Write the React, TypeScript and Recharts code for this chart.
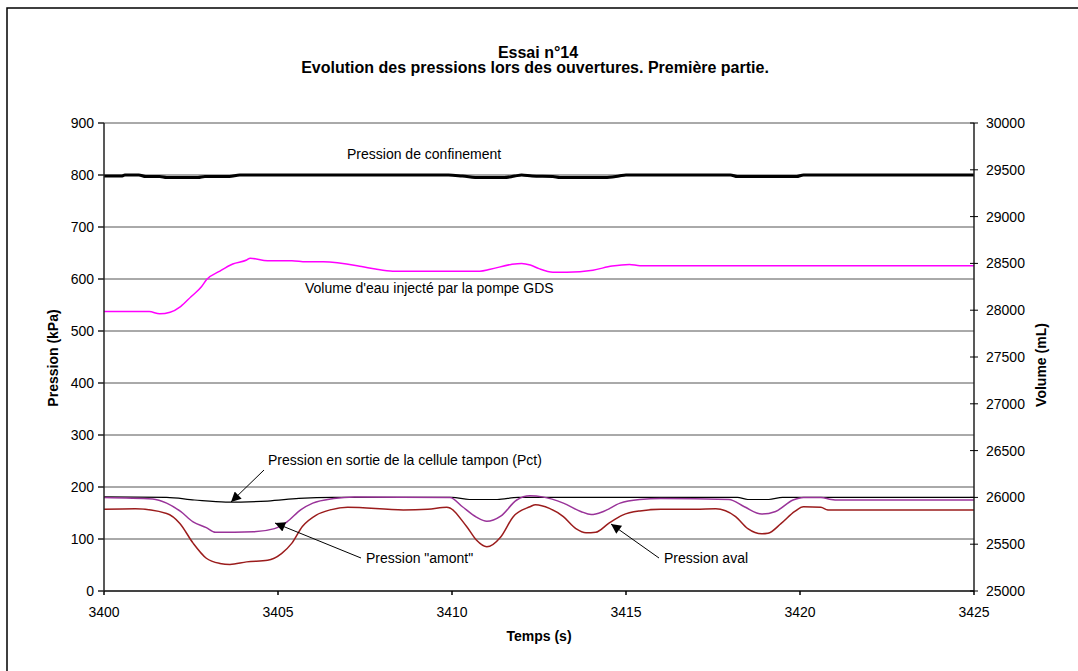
import React from 'react';
import { LineChart, Line, XAxis, YAxis, CartesianGrid } from 'recharts';

const FONT = '"Liberation Sans", Arial, sans-serif';

const X_TICKS = [3400, 3405, 3410, 3415, 3420, 3425];
const P_TICKS = [0, 100, 200, 300, 400, 500, 600, 700, 800, 900];
const V_TICKS = [25000, 25500, 26000, 26500, 27000, 27500, 28000, 28500, 29000, 29500, 30000];

// Pression de confinement (kPa)
const confT = [3400, 3400.5, 3400.6, 3401.0, 3401.2, 3401.6, 3401.8, 3402.7, 3402.9, 3403.6, 3403.9, 3409.9, 3410.3, 3410.8, 3411.5, 3411.8, 3412.0, 3412.3, 3412.9, 3413.1, 3414.4, 3414.8, 3415.0, 3418.0, 3418.2, 3419.9, 3420.1, 3425];
const confP = [798, 798, 800, 800, 797, 797, 795, 795, 797, 797, 800, 800, 798, 795, 795, 798, 800, 798, 797, 795, 795, 798, 800, 800, 797, 797, 800, 800];

// Volume d'eau injecté (mL)
const volT = [3400, 3401.3, 3401.6, 3401.9, 3402.2, 3402.5, 3402.8, 3402.95, 3403.3, 3403.7, 3404.1, 3404.2, 3404.7, 3405.4, 3405.8, 3406.3, 3407.4, 3407.8, 3408.3, 3410.8, 3411.1, 3411.7, 3412.0, 3412.25, 3412.5, 3412.9, 3413.3, 3414.05, 3414.6, 3415.1, 3415.4, 3425];
const volV = [27985, 27985, 27961, 27978, 28039, 28144, 28250, 28328, 28411, 28494, 28536, 28556, 28528, 28528, 28517, 28517, 28467, 28439, 28417, 28417, 28437, 28489, 28500, 28483, 28444, 28406, 28406, 28428, 28472, 28489, 28475, 28475];

// Pression en sortie de la cellule tampon (kPa)
const pctT = [3400, 3401.8, 3402.6, 3403.5, 3404.7, 3405.6, 3406.6, 3410.0, 3410.5, 3411.3, 3411.9, 3418.2, 3418.5, 3419.1, 3419.5, 3425];
const pctP = [181, 180, 175, 171, 173, 178, 180, 180, 176, 176, 180, 180, 176, 176, 180, 180];

// Pression "amont" (kPa)
const amT = [3400, 3401.4, 3401.8, 3402.2, 3402.56, 3402.94, 3403.2, 3404.3, 3404.9, 3405.26, 3405.65, 3406.0, 3406.6, 3407.2, 3409.94, 3410.3, 3410.7, 3411.0, 3411.4, 3411.86, 3412.24, 3412.6, 3413.2, 3413.7, 3414.0, 3414.35, 3414.83, 3415.4, 3416.0, 3417.96, 3418.4, 3418.9, 3419.3, 3419.8, 3420.1, 3420.6, 3420.9, 3421.1, 3425];
const amP = [180, 177, 169, 153, 133, 122, 113, 114, 120, 133, 156, 169, 178, 181, 180, 162, 142, 134, 144, 175, 183, 181, 169, 153, 147, 153, 169, 176, 178, 176, 162, 148, 153, 175, 180, 180, 176, 175, 175];

// Pression aval (kPa)
const avT = [3400, 3400.9, 3401.8, 3402.18, 3402.56, 3402.94, 3403.33, 3403.62, 3404.1, 3404.7, 3405.1, 3405.4, 3405.7, 3406.1, 3406.5, 3407.0, 3408.6, 3409.3, 3409.85, 3410.42, 3410.7, 3411.0, 3411.4, 3411.76, 3412.24, 3412.4, 3412.8, 3413.2, 3413.56, 3413.85, 3414.13, 3414.5, 3414.9, 3415.4, 3416.0, 3417.0, 3417.58, 3418.15, 3418.5, 3418.9, 3419.08, 3419.46, 3419.85, 3420.1, 3420.6, 3420.8, 3421.0, 3425];
const avP = [157, 158, 149, 130, 92, 63, 53, 51, 56, 59, 72, 92, 124, 146, 156, 161, 156, 157, 161, 124, 98, 85, 104, 143, 162, 166, 159, 143, 120, 112, 113, 130, 146, 154, 157, 157, 158, 143, 120, 110, 111, 130, 153, 162, 161, 156, 156, 156];

const zip = (t: number[], v: number[]) => t.map((x, i) => ({ t: x, v: v[i] }));

const tickStyle = { fill: '#000', fontSize: 14, fontFamily: FONT };

function RightTick({ x, y, payload }: any) {
  const ax = x - 12;
  return (
    <g>
      <line x1={ax - 4} x2={ax + 4} y1={y} y2={y} stroke="#000" />
      <text x={x} y={y} dy="0.35em" textAnchor="start" {...tickStyle}>{payload.value}</text>
    </g>
  );
}

export default function App() {
  return (
    <div style={{ position: 'absolute', left: 0, top: 0, width: 1078, height: 671, background: '#fff' }}>
      <LineChart width={1078} height={671} margin={{ top: 123, right: 14, bottom: 50, left: 44 }}>
        <CartesianGrid yAxisId="left" vertical={false} stroke="#555" strokeWidth={1} />
        <XAxis
          dataKey="t" type="number" domain={[3400, 3425]} ticks={X_TICKS} allowDataOverflow
          height={30} tickSize={4} tickMargin={12} tick={tickStyle}
          stroke="#222" strokeWidth={1.5} tickLine={{ stroke: '#000' }}
        />
        <YAxis
          yAxisId="left" domain={[0, 900]} ticks={P_TICKS} width={60}
          tickSize={6} tickMargin={4} tick={tickStyle} stroke="#222" strokeWidth={1.5}
        />
        <YAxis
          yAxisId="right" orientation="right" domain={[25000, 30000]} ticks={V_TICKS} width={90}
          tickSize={4} tickMargin={8} tickLine={false} tick={<RightTick />} stroke="#222" strokeWidth={1.5}
        />
        <Line yAxisId="left" data={zip(confT, confP)} dataKey="v" type="monotone" stroke="#000" strokeWidth={3} dot={false} isAnimationActive={false} />
        <Line yAxisId="right" data={zip(volT, volV)} dataKey="v" type="monotone" stroke="#ff00ff" strokeWidth={1.5} dot={false} isAnimationActive={false} />
        <Line yAxisId="left" data={zip(pctT, pctP)} dataKey="v" type="monotone" stroke="#000" strokeWidth={1.2} dot={false} isAnimationActive={false} />
        <Line yAxisId="left" data={zip(amT, amP)} dataKey="v" type="monotone" stroke="#993399" strokeWidth={1.5} dot={false} isAnimationActive={false} />
        <Line yAxisId="left" data={zip(avT, avP)} dataKey="v" type="monotone" stroke="#9b1c1c" strokeWidth={1.5} dot={false} isAnimationActive={false} />
      </LineChart>

      <svg width={1078} height={671} style={{ position: 'absolute', left: 0, top: 0, pointerEvents: 'none' }} fontFamily={FONT}>
        <defs>
          <marker id="arr" viewBox="0 0 10 10" refX="10" refY="5" markerWidth="13" markerHeight="10" orient="auto" markerUnits="userSpaceOnUse">
            <path d="M0,0 L10,5 L0,10 z" fill="#000" />
          </marker>
        </defs>
        <rect x={7} y={8} width={1200} height={800} fill="none" stroke="#000" strokeWidth={1.5} />

        <text x={538} y={58} textAnchor="middle" fontSize={16} fontWeight="bold">Essai n°14</text>
        <text x={535} y={73} textAnchor="middle" fontSize={16} fontWeight="bold">Evolution des pressions lors des ouvertures. Première partie.</text>

        <text x={539} y={641} textAnchor="middle" fontSize={14} fontWeight="bold">Temps (s)</text>
        <text x={58} y={358} textAnchor="middle" fontSize={14} fontWeight="bold" transform="rotate(-90 58 358)">Pression (kPa)</text>
        <text x={1046} y={365} textAnchor="middle" fontSize={14} fontWeight="bold" transform="rotate(-90 1046 365)">Volume (mL)</text>

        <text x={347} y={159} fontSize={14}>Pression de confinement</text>
        <text x={305} y={293} fontSize={14}>Volume d'eau injecté par la pompe GDS</text>
        <text x={268} y={465} fontSize={14}>Pression en sortie de la cellule tampon (Pct)</text>
        <text x={366} y={563} fontSize={14}>Pression "amont"</text>
        <text x={664} y={563} fontSize={14}>Pression aval</text>

        <line x1={264} y1={470} x2={231} y2={502} stroke="#000" strokeWidth={1} markerEnd="url(#arr)" />
        <line x1={361} y1={558} x2={275} y2={523} stroke="#000" strokeWidth={1} markerEnd="url(#arr)" />
        <line x1={659} y1={558} x2={611} y2={524} stroke="#000" strokeWidth={1} markerEnd="url(#arr)" />
      </svg>
    </div>
  );
}
